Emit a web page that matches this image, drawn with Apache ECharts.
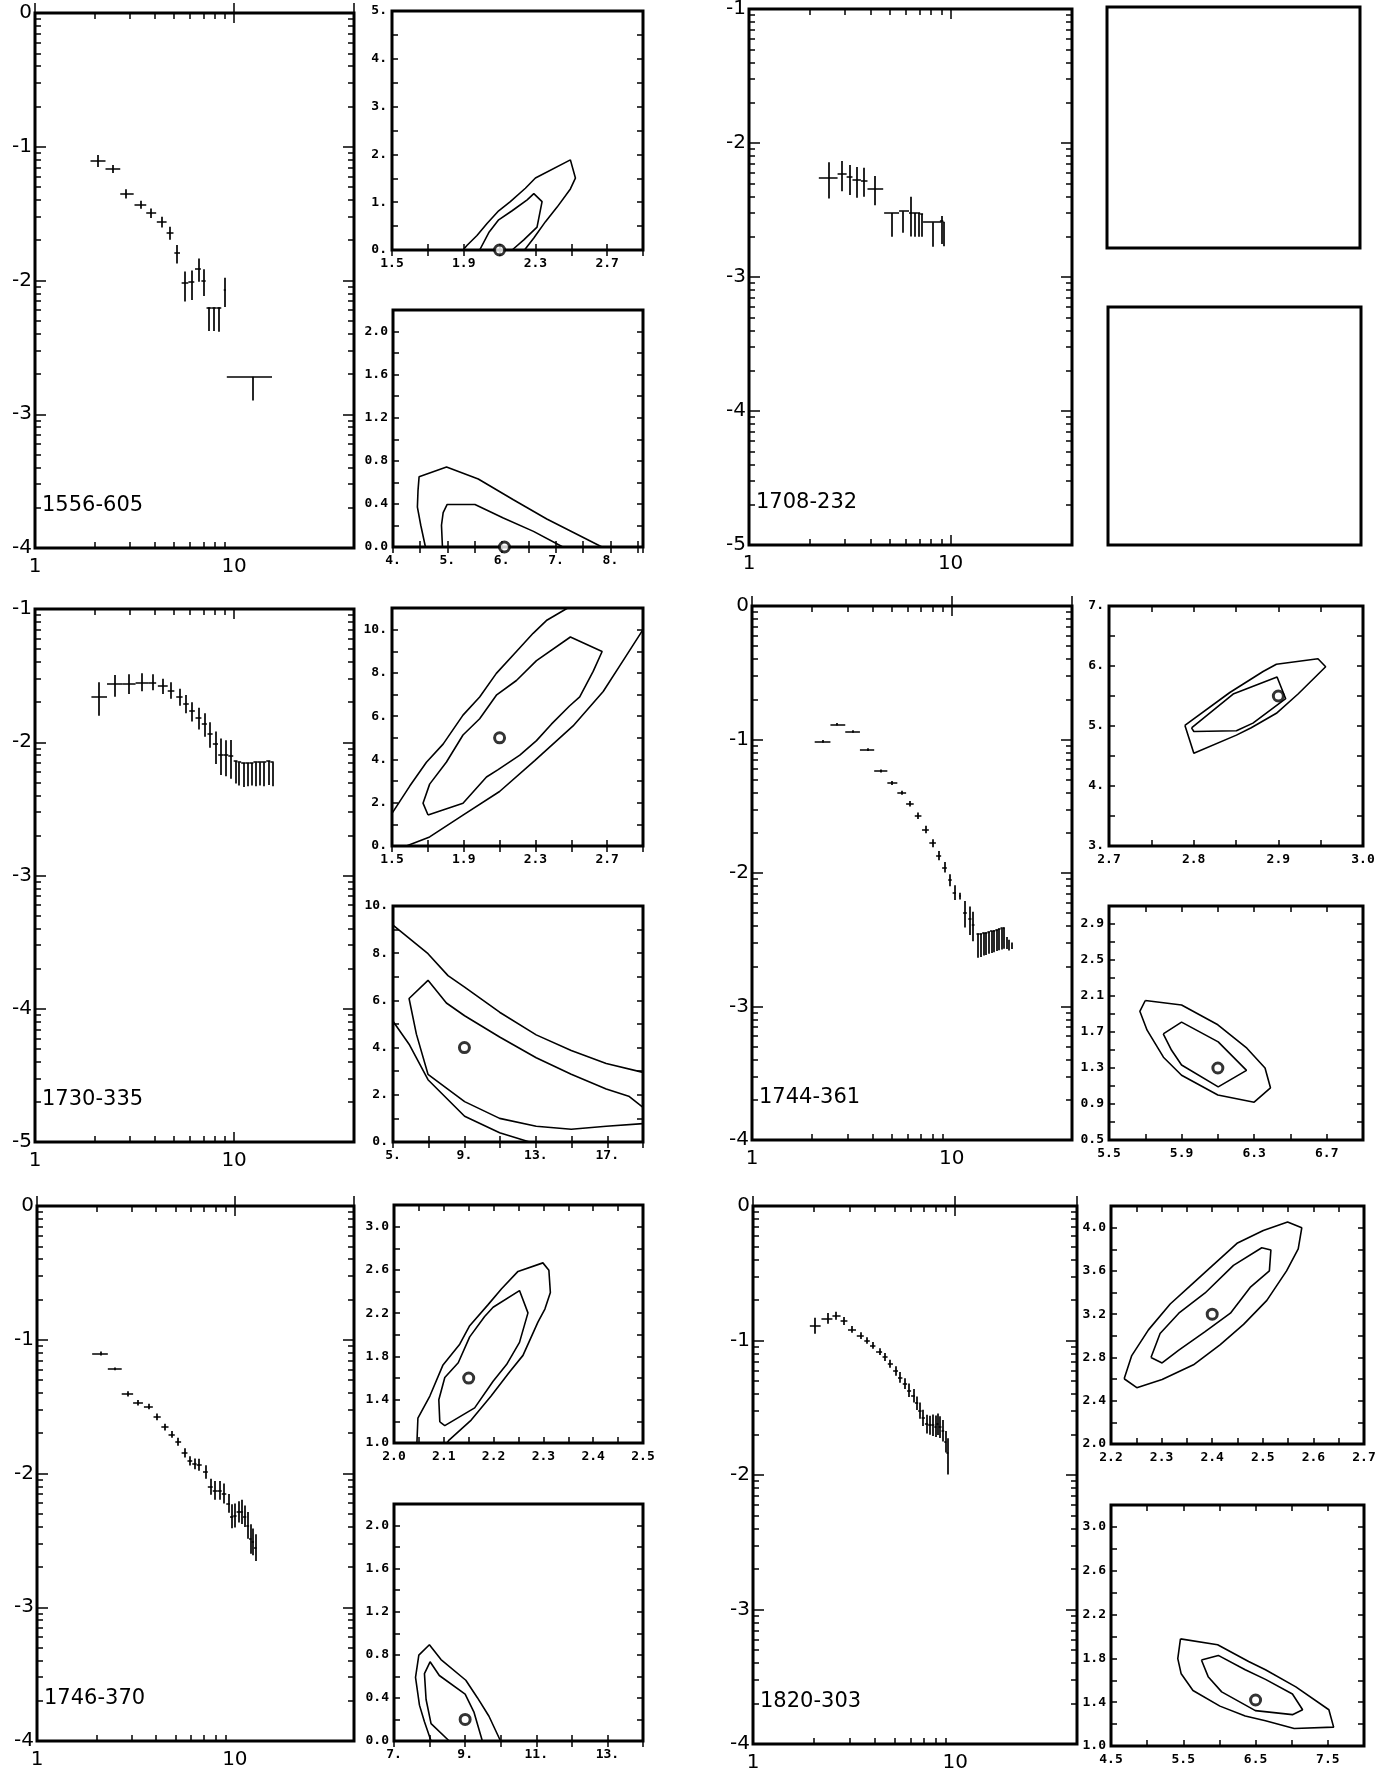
<!DOCTYPE html>
<html>
<head>
<meta charset="utf-8">
<script src="https://cdn.jsdelivr.net/npm/echarts@6/dist/echarts.min.js"></script>
<style>
  html, body { margin: 0; padding: 0; background: #fff; }
  #chart { width: 1391px; height: 1773px; }
</style>
</head>
<body>
<div id="chart"></div>
<script>
// ---------- photon spectra: [E keV, E low, E high, log flux, +err, -err] ----------
const spec1556 = [
  [2.07, 1.90, 2.26, -1.107, 0.045, 0.045], [2.46, 2.26, 2.68, -1.167, 0.03, 0.03],
  [2.87, 2.68, 3.13, -1.352, 0.035, 0.035], [3.38, 3.16, 3.62, -1.434, 0.03, 0.03],
  [3.83, 3.62, 4.06, -1.497, 0.035, 0.035], [4.33, 4.09, 4.58, -1.563, 0.04, 0.04],
  [4.77, 4.58, 4.96, -1.645, 0.046, 0.05], [5.17, 5.01, 5.35, -1.795, 0.06, 0.077],
  [5.67, 5.45, 5.89, -2.02, 0.087, 0.137], [6.10, 5.89, 6.31, -2.008, 0.082, 0.137],
  [6.61, 6.36, 6.81, -1.913, 0.077, 0.096], [7.03, 6.85, 7.20, -2.0, 0.085, 0.115],
  [7.50, 7.27, 7.72, -2.2, 0, 0.178], [7.94, 7.72, 8.17, -2.2, 0, 0.178],
  [8.41, 8.17, 8.62, -2.2, 0, 0.183], [8.98, 8.87, 9.09, -2.07, 0.09, 0.128],
  [12.45, 9.19, 15.5, -2.72, 0, 0.178]
];
const spec1708 = [
  [2.49, 2.22, 2.75, -2.26, 0.117, 0.154], [2.89, 2.75, 3.05, -2.233, 0.098, 0.127],
  [3.145, 3.05, 3.26, -2.252, 0.087, 0.136], [3.43, 3.26, 3.59, -2.271, 0.092, 0.138],
  [3.69, 3.59, 3.87, -2.279, 0.095, 0.122], [4.21, 3.87, 4.63, -2.339, 0.092, 0.125],
  [5.11, 4.68, 5.55, -2.523, 0, 0.176], [5.81, 5.55, 6.22, -2.509, 0, 0.160],
  [6.34, 6.22, 6.50, -2.518, 0.117, 0.18], [6.66, 6.50, 6.82, -2.523, 0, 0.176],
  [6.93, 6.82, 7.06, -2.523, 0, 0.176], [7.19, 7.06, 7.30, -2.53, 0, 0.17],
  [8.11, 7.30, 9.0, -2.591, 0, 0.184], [9.0, 8.85, 9.2, -2.583, 0.038, 0.17],
  [9.27, 9.2, 9.3, -2.59, 0, 0.18]
];
const spec1730 = [
  [2.10, 1.92, 2.30, -1.659, 0.109, 0.142], [2.51, 2.30, 2.74, -1.564, 0.068, 0.095],
  [2.96, 2.74, 3.20, -1.564, 0.074, 0.074], [3.45, 3.20, 3.73, -1.550, 0.068, 0.068],
  [3.91, 3.73, 4.06, -1.550, 0.06, 0.06], [4.38, 4.14, 4.64, -1.578, 0.054, 0.06],
  [4.82, 4.64, 5.01, -1.610, 0.06, 0.063], [5.31, 5.12, 5.51, -1.659, 0.06, 0.068],
  [5.73, 5.55, 5.92, -1.708, 0.063, 0.074], [6.14, 5.95, 6.35, -1.763, 0.063, 0.082],
  [6.63, 6.40, 6.85, -1.817, 0.076, 0.087], [7.08, 6.88, 7.30, -1.864, 0.082, 0.095],
  [7.56, 7.35, 7.80, -1.937, 0.087, 0.104], [8.04, 7.82, 8.30, -2.014, 0.095, 0.15],
  [8.58, 8.32, 8.85, -2.095, 0.123, 0.15], [9.08, 8.85, 9.35, -2.095, 0.11, 0.16],
  [9.62, 9.35, 9.90, -2.104, 0.12, 0.17],
  [10.23, 9.95, 10.4, -2.14, 0, 0.17], [10.59, 10.4, 10.85, -2.15, 0, 0.175],
  [11.13, 10.85, 11.4, -2.155, 0, 0.18], [11.66, 11.4, 11.93, -2.155, 0, 0.175],
  [12.2, 11.93, 12.5, -2.155, 0, 0.17], [12.82, 12.5, 13.14, -2.15, 0, 0.18],
  [13.46, 13.14, 13.8, -2.15, 0, 0.175], [14.13, 13.8, 14.5, -2.15, 0, 0.18],
  [14.85, 14.5, 15.2, -2.14, 0, 0.18], [15.56, 15.2, 15.8, -2.15, 0, 0.18]
];
const spec1744 = [
  [2.27, 2.06, 2.47, -1.014, 0.01, 0.01], [2.67, 2.47, 2.93, -0.886, 0.01, 0.01],
  [3.19, 2.93, 3.47, -0.940, 0.01, 0.01], [3.79, 3.47, 4.09, -1.076, 0.01, 0.01],
  [4.41, 4.09, 4.76, -1.236, 0.012, 0.012], [4.98, 4.76, 5.34, -1.326, 0.015, 0.015],
  [5.59, 5.34, 5.91, -1.399, 0.015, 0.015], [6.17, 5.91, 6.45, -1.481, 0.02, 0.02],
  [6.78, 6.53, 7.05, -1.571, 0.025, 0.025], [7.38, 7.10, 7.68, -1.674, 0.028, 0.028],
  [8.02, 7.72, 8.33, -1.777, 0.03, 0.03], [8.59, 8.35, 8.85, -1.870, 0.035, 0.035],
  [9.19, 8.95, 9.45, -1.957, 0.04, 0.04], [9.81, 9.6, 10.0, -2.054, 0.045, 0.045],
  [10.31, 10.1, 10.5, -2.147, 0.055, 0.055], [10.99, 10.9, 11.1, -2.168, 0.02, 0.03],
  [11.65, 11.4, 11.9, -2.299, 0.09, 0.11], [12.33, 12.1, 12.55, -2.345, 0.095, 0.12],
  [12.8, 12.6, 13.0, -2.391, 0.1, 0.12],
  [13.56, 13.3, 13.77, -2.454, 0, 0.18], [13.98, 13.77, 14.2, -2.454, 0, 0.175],
  [14.41, 14.2, 14.63, -2.448, 0, 0.17], [14.86, 14.63, 15.08, -2.445, 0, 0.17],
  [15.31, 15.08, 15.55, -2.44, 0, 0.165], [15.78, 15.55, 16.02, -2.435, 0, 0.165],
  [16.27, 16.02, 16.52, -2.429, 0, 0.165], [16.77, 16.52, 17.03, -2.424, 0, 0.16],
  [17.29, 17.03, 17.55, -2.418, 0, 0.16], [17.82, 17.55, 18.02, -2.413, 0, 0.16],
  [18.23, 18.02, 18.4, -2.408, 0, 0.16],
  [18.76, 18.76, 18.76, -2.48, 0, 0.09], [19.3, 19.3, 19.3, -2.5, 0, 0.08],
  [19.87, 19.87, 19.87, -2.52, 0, 0.05]
];
const spec1746 = [
  [2.09, 1.90, 2.28, -1.102, 0.015, 0.015], [2.46, 2.28, 2.68, -1.218, 0.01, 0.01],
  [2.87, 2.68, 3.06, -1.405, 0.02, 0.02], [3.24, 3.06, 3.43, -1.471, 0.02, 0.02],
  [3.66, 3.47, 3.85, -1.499, 0.02, 0.02], [4.05, 3.88, 4.22, -1.576, 0.025, 0.025],
  [4.44, 4.25, 4.62, -1.653, 0.025, 0.025], [4.79, 4.62, 4.97, -1.708, 0.025, 0.025],
  [5.17, 5.0, 5.35, -1.763, 0.03, 0.03], [5.57, 5.38, 5.76, -1.846, 0.035, 0.035],
  [5.93, 5.76, 6.09, -1.906, 0.035, 0.035], [6.25, 6.09, 6.41, -1.928, 0.04, 0.04],
  [6.57, 6.41, 6.8, -1.934, 0.045, 0.045], [7.09, 6.9, 7.3, -1.989, 0.05, 0.05],
  [7.51, 7.3, 7.73, -2.099, 0.06, 0.06], [7.95, 7.73, 8.15, -2.127, 0.07, 0.07],
  [8.34, 8.15, 8.58, -2.127, 0.07, 0.07], [8.82, 8.58, 9.05, -2.149, 0.075, 0.075],
  [9.26, 9.05, 9.45, -2.223, 0.07, 0.07], [9.63, 9.45, 9.82, -2.320, 0.09, 0.09],
  [10.0, 9.82, 10.2, -2.314, 0.09, 0.09], [10.41, 10.2, 10.6, -2.287, 0.08, 0.08],
  [10.81, 10.6, 11.0, -2.287, 0.09, 0.09], [11.2, 11.0, 11.42, -2.32, 0.08, 0.08],
  [11.66, 11.42, 11.8, -2.388, 0.1, 0.1], [11.97, 11.8, 12.15, -2.49, 0.11, 0.11],
  [12.33, 12.15, 12.5, -2.512, 0.1, 0.1], [12.7, 12.5, 12.88, -2.554, 0.1, 0.1]
];
const spec1820 = [
  [2.03, 1.91, 2.16, -0.890, 0.06, 0.06], [2.33, 2.18, 2.47, -0.836, 0.04, 0.04],
  [2.58, 2.47, 2.71, -0.816, 0.03, 0.03], [2.81, 2.71, 2.93, -0.855, 0.03, 0.03],
  [3.09, 2.95, 3.23, -0.918, 0.025, 0.025], [3.40, 3.26, 3.53, -0.964, 0.025, 0.025],
  [3.66, 3.55, 3.78, -1.0, 0.025, 0.025], [3.90, 3.79, 4.03, -1.036, 0.025, 0.025],
  [4.21, 4.06, 4.35, -1.082, 0.025, 0.025], [4.50, 4.37, 4.63, -1.123, 0.03, 0.03],
  [4.77, 4.64, 4.92, -1.173, 0.03, 0.03], [5.08, 4.93, 5.21, -1.227, 0.035, 0.035],
  [5.33, 5.21, 5.48, -1.274, 0.04, 0.04], [5.65, 5.5, 5.78, -1.321, 0.04, 0.04],
  [5.91, 5.78, 6.05, -1.37, 0.05, 0.05], [6.20, 6.05, 6.32, -1.411, 0.05, 0.05],
  [6.44, 6.32, 6.56, -1.466, 0.05, 0.05], [6.69, 6.56, 6.82, -1.521, 0.06, 0.06],
  [6.94, 6.82, 7.08, -1.575, 0.06, 0.06], [7.21, 7.08, 7.35, -1.622, 0.07, 0.07],
  [7.48, 7.35, 7.62, -1.630, 0.07, 0.07], [7.77, 7.62, 7.88, -1.630, 0.08, 0.08],
  [7.98, 7.88, 8.07, -1.638, 0.08, 0.08], [8.16, 8.07, 8.27, -1.622, 0.08, 0.08],
  [8.39, 8.27, 8.55, -1.644, 0.08, 0.08], [8.70, 8.55, 8.82, -1.671, 0.08, 0.08],
  [8.93, 8.82, 9.03, -1.753, 0.08, 0.08], [9.14, 9.03, 9.25, -1.836, 0.11, 0.16]
];

// ---------- confidence contours ----------
const c1556aOuter = [[1.896,0],[1.919,0.099],[1.974,0.304],[2.030,0.555],[2.095,0.821],[2.160,1.011],[2.244,1.292],[2.300,1.505],[2.495,1.885],[2.523,1.505],[2.495,1.277],[2.421,0.897],[2.356,0.593],[2.291,0.251],[2.239,0]];
const c1556aInner = [[1.989,0],[2.040,0.365],[2.095,0.631],[2.170,0.821],[2.254,1.049],[2.291,1.178],[2.337,1.011],[2.309,0.479],[2.235,0.213],[2.170,0]];
const c1556aBest = [[2.1, 0]];

const c1556bOuter = [[4.597,0],[4.511,0.202],[4.449,0.371],[4.46,0.523],[4.48,0.651],[4.985,0.742],[5.569,0.631],[6.215,0.439],[6.83,0.26],[7.32,0.135],[7.846,0]];
const c1556bInner = [[4.91,0],[4.892,0.202],[4.923,0.32],[4.997,0.395],[5.508,0.395],[6.03,0.27],[6.585,0.145],[7.126,0]];
const c1556bBest = [[6.05, 0]];

const c1730aUpper = [[1.5,1.51],[1.599,2.77],[1.692,3.87],[1.785,4.71],[1.896,6.05],[1.989,6.89],[2.082,7.98],[2.194,8.99],[2.287,9.83],[2.361,10.42],[2.48,11.0]];
const c1730aLower = [[1.58,0],[1.71,0.42],[1.896,1.43],[2.10,2.52],[2.296,3.95],[2.51,5.55],[2.678,7.14],[2.789,8.57],[2.9,10.0]];
const c1730aInner = [[1.701,1.43],[1.673,1.98],[1.71,2.86],[1.803,3.87],[1.896,5.13],[1.989,5.88],[2.082,6.97],[2.194,7.65],[2.306,8.57],[2.495,9.66],[2.672,8.99],[2.622,8.07],[2.547,6.89],[2.49,6.47],[2.389,5.63],[2.306,4.87],[2.213,4.2],[2.092,3.53],[2.027,3.19],[1.896,1.98],[1.701,1.43]];
const c1730aBest = [[2.1, 5.0]];

const c1730bUpper = [[5,9.19],[6.96,7.98],[8.08,7.05],[9.01,6.56],[10.97,5.5],[13.02,4.54],[14.98,3.88],[16.94,3.33],[19,2.95]];
const c1730bLower = [[5,5.12],[5.93,4.11],[6.96,2.64],[9.01,1.09],[10.97,0.39],[12.65,0]];
const c1730bInner = [[19,1.47],[18.2,1.94],[16.94,2.25],[14.98,2.87],[13.02,3.57],[10.97,4.45],[9.01,5.35],[7.99,5.89],[6.96,6.85],[5.9,6.08],[6.31,4.57],[6.96,2.87],[9.01,1.71],[10.97,1.0],[13.02,0.67],[14.98,0.54],[16.94,0.67],[19,0.78]];
const c1730bBest = [[9, 4]];

const c1744aOuter = [[2.7896,5.012],[2.8002,4.545],[2.8505,4.848],[2.868,4.97],[2.8977,5.212],[2.9233,5.533],[2.9559,5.988],[2.9468,6.121],[2.8977,6.03],[2.882,5.909],[2.8427,5.558],[2.7896,5.012]];
const c1744aInner = [[2.7975,4.97],[2.8002,4.909],[2.8505,4.921],[2.870,5.048],[2.9087,5.455],[2.8985,5.818],[2.8466,5.533],[2.7975,4.97]];
const c1744aBest = [[2.9, 5.5]];

const c1744bOuter = [[5.70,2.05],[5.9,2.0],[6.1,1.78],[6.26,1.52],[6.36,1.3],[6.39,1.08],[6.3,0.92],[6.1,1.0],[5.9,1.22],[5.8,1.42],[5.71,1.72],[5.67,1.93],[5.70,2.05]];
const c1744bInner = [[5.799,1.68],[5.9,1.81],[6.102,1.59],[6.258,1.273],[6.102,1.09],[5.9,1.334],[5.845,1.497],[5.799,1.68]];
const c1744bBest = [[6.1, 1.3]];

const c1746aOuter = [[2.046,1.0],[2.048,1.229],[2.072,1.434],[2.098,1.718],[2.132,1.913],[2.152,2.084],[2.189,2.279],[2.216,2.426],[2.249,2.586],[2.299,2.665],[2.311,2.597],[2.314,2.391],[2.303,2.238],[2.289,2.118],[2.259,1.81],[2.232,1.656],[2.195,1.434],[2.155,1.212],[2.11,1.024],[2.106,1.0]];
const c1746aInner = [[2.092,1.195],[2.09,1.4],[2.102,1.605],[2.129,1.742],[2.152,1.981],[2.182,2.169],[2.199,2.255],[2.252,2.409],[2.269,2.203],[2.252,1.93],[2.226,1.725],[2.199,1.571],[2.162,1.325],[2.102,1.161],[2.092,1.195]];
const c1746aBest = [[2.15, 1.6]];

const c1746bOuter = [[8.042,0],[7.856,0.179],[7.716,0.333],[7.605,0.591],[7.698,0.797],[7.995,0.893],[8.321,0.756],[9.019,0.564],[9.344,0.402],[9.67,0.23],[9.995,0]];
const c1746bInner = [[8.553,0],[8.042,0.162],[7.902,0.385],[7.856,0.625],[8.014,0.735],[8.274,0.608],[9.0,0.436],[9.251,0.265],[9.484,0]];
const c1746bBest = [[9.0, 0.2]];

const c1820aOuter = [[2.226,2.603],[2.241,2.817],[2.274,3.055],[2.317,3.294],[2.357,3.464],[2.389,3.6],[2.449,3.855],[2.501,3.974],[2.549,4.053],[2.577,3.998],[2.57,3.804],[2.547,3.6],[2.508,3.328],[2.462,3.106],[2.416,2.919],[2.363,2.732],[2.301,2.596],[2.251,2.521],[2.226,2.603]];
const c1820aInner = [[2.279,2.8],[2.297,3.021],[2.334,3.209],[2.386,3.396],[2.442,3.651],[2.498,3.814],[2.516,3.794],[2.513,3.6],[2.475,3.447],[2.436,3.209],[2.386,3.038],[2.334,2.868],[2.301,2.749],[2.279,2.8]];
const c1820aBest = [[2.4, 3.2]];

const c1820bOuter = [[5.461,1.978],[5.975,1.924],[6.404,1.772],[6.637,1.696],[7.057,1.54],[7.514,1.331],[7.58,1.172],[7.034,1.16],[6.637,1.23],[6.357,1.273],[6.007,1.364],[5.634,1.507],[5.471,1.659],[5.424,1.797],[5.461,1.978]];
const c1820bInner = [[5.751,1.785],[5.984,1.827],[6.357,1.696],[6.637,1.608],[7.01,1.475],[7.151,1.331],[7.01,1.286],[6.497,1.323],[6.031,1.494],[5.844,1.633],[5.751,1.785]];
const c1820bBest = [[6.5, 1.42]];

// minor ticks of the logarithmic scales (multiples within one decade)
const decadeSteps = [2, 3, 4, 5, 6, 7, 8, 9];

// ---------- panel layout: box = [left, top, right, bottom] in px ----------
// contour axes: [min, max, tick step, label step, decimals]
const panels = [
  { kind: 'spec', box: [35, 13, 354, 548], data: spec1556, y: [-4, 0], name: '1556-605' },
  { kind: 'cont', box: [392, 11, 643, 250], x: [1.5, 2.9, 0.2, 0.4, 1], y: [0, 5, 0.5, 1, 0], lines: [c1556aOuter, c1556aInner], best: c1556aBest },
  { kind: 'cont', box: [393, 310, 643, 547], x: [4, 8.6, 0.5, 1, 0], y: [0, 2.2, 0.2, 0.4, 1], lines: [c1556bOuter, c1556bInner], best: c1556bBest },
  { kind: 'spec', box: [749, 9, 1072, 545], data: spec1708, y: [-5, -1], name: '1708-232' },
  { kind: 'empty', box: [1107, 7, 1360, 248] },
  { kind: 'empty', box: [1108, 307, 1361, 545] },
  { kind: 'spec', box: [35, 609, 354, 1142], data: spec1730, y: [-5, -1], name: '1730-335' },
  { kind: 'cont', box: [392, 608, 643, 846], x: [1.5, 2.9, 0.2, 0.4, 1], y: [0, 11, 1, 2, 0], lines: [c1730aUpper, c1730aLower, c1730aInner], best: c1730aBest },
  { kind: 'cont', box: [393, 906, 643, 1142], x: [5, 19, 2, 4, 0], y: [0, 10, 1, 2, 0], lines: [c1730bUpper, c1730bLower, c1730bInner], best: c1730bBest },
  { kind: 'spec', box: [752, 606, 1072, 1140], data: spec1744, y: [-4, 0], name: '1744-361' },
  { kind: 'cont', box: [1109, 606, 1363, 846], x: [2.7, 3.0, 0.05, 0.1, 1], y: [3, 7, 0.5, 1, 0], lines: [c1744aOuter, c1744aInner], best: c1744aBest },
  { kind: 'cont', box: [1109, 906, 1363, 1140], x: [5.5, 6.9, 0.2, 0.4, 1], y: [0.5, 3.1, 0.2, 0.4, 1], lines: [c1744bOuter, c1744bInner], best: c1744bBest },
  { kind: 'spec', box: [37, 1206, 354, 1741], data: spec1746, y: [-4, 0], name: '1746-370' },
  { kind: 'cont', box: [394, 1205, 643, 1443], x: [2.0, 2.5, 0.05, 0.1, 1], y: [1.0, 3.2, 0.2, 0.4, 1], lines: [c1746aOuter, c1746aInner], best: c1746aBest },
  { kind: 'cont', box: [394, 1504, 643, 1741], x: [7, 14, 1, 2, 0], y: [0, 2.2, 0.2, 0.4, 1], lines: [c1746bOuter, c1746bInner], best: c1746bBest },
  { kind: 'spec', box: [753, 1206, 1077, 1744], data: spec1820, y: [-4, 0], name: '1820-303' },
  { kind: 'cont', box: [1111, 1206, 1364, 1444], x: [2.2, 2.7, 0.05, 0.1, 1], y: [2.0, 4.2, 0.2, 0.4, 1], lines: [c1820aOuter, c1820aInner], best: c1820aBest },
  { kind: 'cont', box: [1111, 1505, 1364, 1746], x: [4.5, 8.0, 0.5, 1, 1], y: [1.0, 3.2, 0.2, 0.4, 1], lines: [c1820bOuter, c1820bInner], best: c1820bBest }
];

const INK = '#000';
const SPEC_FONT = 'DejaVu Sans';
const CONT_FONT = 'DejaVu Sans Mono';
const E_MIN = 1, E_MAX = 40;
const MINOR_LEN = 6;   // px

function decadeLabel(v) {
  const l = Math.log10(v);
  return Math.abs(l - Math.round(l)) < 1e-6 ? String(Math.round(v)) : '';
}

function contourLabel(min, step, dec) {
  return function (v) {
    const k = (v - min) / step;
    if (Math.abs(k - Math.round(k)) > 1e-6) return '';
    return dec === 0 ? Math.round(v) + '.' : v.toFixed(dec);
  };
}

// segments of the error crosses: horizontal = energy bin, vertical = flux error
function errorSegments(rows) {
  const out = [];
  rows.forEach(function (r) {
    const [e, elo, ehi, f, up, dn] = r;
    if (ehi > elo) out.push({ coords: [[elo, f], [ehi, f]] });
    if (up + dn > 0) out.push({ coords: [[e, f + up], [e, f - dn]] });
  });
  return out;
}

function segSeries(xi, yi, data, width) {
  return {
    type: 'lines', coordinateSystem: 'cartesian2d', xAxisIndex: xi, yAxisIndex: yi,
    polyline: false, silent: true, data: data, z: 3,
    lineStyle: { color: INK, width: width, opacity: 1, curveness: 0 }
  };
}

const option = {
  animation: false,
  backgroundColor: '#fff',
  grid: [], xAxis: [], yAxis: [], series: [], graphic: []
};

panels.forEach(function (p, i) {
  const [l, t, r, b] = p.box;
  const w = r - l, h = b - t;
  option.grid.push({
    left: l, top: t, width: w, height: h,
    show: true, borderColor: INK, borderWidth: 3, backgroundColor: 'transparent',
    containLabel: false, outerBoundsMode: 'none'
  });
  const xi = option.xAxis.length, yi = option.yAxis.length;

  if (p.kind === 'empty') {
    option.xAxis.push({ gridIndex: i, type: 'value', show: false, min: 0, max: 1 });
    option.yAxis.push({ gridIndex: i, type: 'value', show: false, min: 0, max: 1 });
    return;
  }

  if (p.kind === 'spec') {
    const [yLo, yHi] = p.y;
    const xBase = {
      gridIndex: i, type: 'log', logBase: 10, min: E_MIN, max: E_MAX,
      axisLine: { show: false }, splitLine: { show: false }, minorTick: { show: false },
      axisTick: { show: true, inside: true, length: 10, lineStyle: { color: INK, width: 1.5 } }
    };
    option.xAxis.push(Object.assign({}, xBase, {
      position: 'bottom',
      axisLabel: { show: true, margin: 9, color: INK, fontFamily: SPEC_FONT, fontSize: 20, formatter: decadeLabel }
    }));
    option.xAxis.push(Object.assign({}, xBase, { position: 'top', axisLabel: { show: false } }));
    const yBase = {
      gridIndex: i, type: 'value', min: yLo, max: yHi, interval: 1,
      axisLine: { show: false }, splitLine: { show: false },
      axisTick: { show: true, inside: true, length: 11, lineStyle: { color: INK, width: 1.5 } }
    };
    option.yAxis.push(Object.assign({}, yBase, {
      position: 'left',
      axisLabel: { show: true, margin: 3, color: INK, fontFamily: SPEC_FONT, fontSize: 20, showMinLabel: true, showMaxLabel: true }
    }));
    option.yAxis.push(Object.assign({}, yBase, { position: 'right', axisLabel: { show: false } }));

    // minor ticks: tick length expressed in axis units of this box
    const dy = MINOR_LEN * (yHi - yLo) / h;
    const fx = Math.pow(10, MINOR_LEN * Math.log10(E_MAX / E_MIN) / w);
    const ticks = [];
    decadeSteps.forEach(function (k) {
      ticks.push({ coords: [[k, yLo], [k, yLo + dy]] });
      ticks.push({ coords: [[k, yHi], [k, yHi - dy]] });
    });
    for (let n = yLo; n < yHi; n++) {
      decadeSteps.forEach(function (k) {
        const v = n + Math.log10(k);
        ticks.push({ coords: [[E_MIN, v], [E_MIN * fx, v]] });
        ticks.push({ coords: [[E_MAX, v], [E_MAX / fx, v]] });
      });
    }
    option.series.push(segSeries(xi, yi, ticks, 1.5));
    option.series.push(segSeries(xi, yi, errorSegments(p.data), 1.7));

    option.graphic.push({
      type: 'text', x: l + 7, y: b - 42, silent: true,
      style: { text: p.name, fill: INK, fontFamily: SPEC_FONT, fontSize: 21, verticalAlign: 'middle', align: 'left' }
    });
    return;
  }

  // confidence-contour panel
  const [x0, x1, xs, xl, xd] = p.x;
  const [y0, y1, ys, yl, yd] = p.y;
  const tick = { show: true, inside: true, length: 6, lineStyle: { color: INK, width: 1.5 } };
  const lab = { color: INK, fontFamily: CONT_FONT, fontWeight: 'bold', fontSize: 13, showMinLabel: true, showMaxLabel: true };
  const xBase = { gridIndex: i, type: 'value', min: x0, max: x1, interval: xs, axisLine: { show: false }, splitLine: { show: false }, axisTick: tick };
  const yBase = { gridIndex: i, type: 'value', min: y0, max: y1, interval: ys, axisLine: { show: false }, splitLine: { show: false }, axisTick: tick };
  option.xAxis.push(Object.assign({}, xBase, { position: 'bottom', axisLabel: Object.assign({ margin: 7, formatter: contourLabel(x0, xl, xd) }, lab) }));
  option.xAxis.push(Object.assign({}, xBase, { position: 'top', axisLabel: { show: false } }));
  option.yAxis.push(Object.assign({}, yBase, { position: 'left', axisLabel: Object.assign({ margin: 5, formatter: contourLabel(y0, yl, yd) }, lab) }));
  option.yAxis.push(Object.assign({}, yBase, { position: 'right', axisLabel: { show: false } }));

  p.lines.forEach(function (line) {
    option.series.push({
      type: 'line', xAxisIndex: xi, yAxisIndex: yi, data: line, silent: true,
      symbol: 'none', showSymbol: false, clip: true, smooth: false,
      lineStyle: { color: INK, width: 1.6 }
    });
  });
  option.series.push({
    type: 'scatter', xAxisIndex: xi, yAxisIndex: yi, data: p.best, silent: true, clip: false, z: 5,
    symbol: 'circle', symbolSize: 10,
    itemStyle: { color: '#fff', borderColor: INK, borderWidth: 3 }
  });
});

const chart = echarts.init(document.getElementById('chart'), null, { renderer: 'canvas' });
chart.setOption(option);
</script>
</body>
</html>
